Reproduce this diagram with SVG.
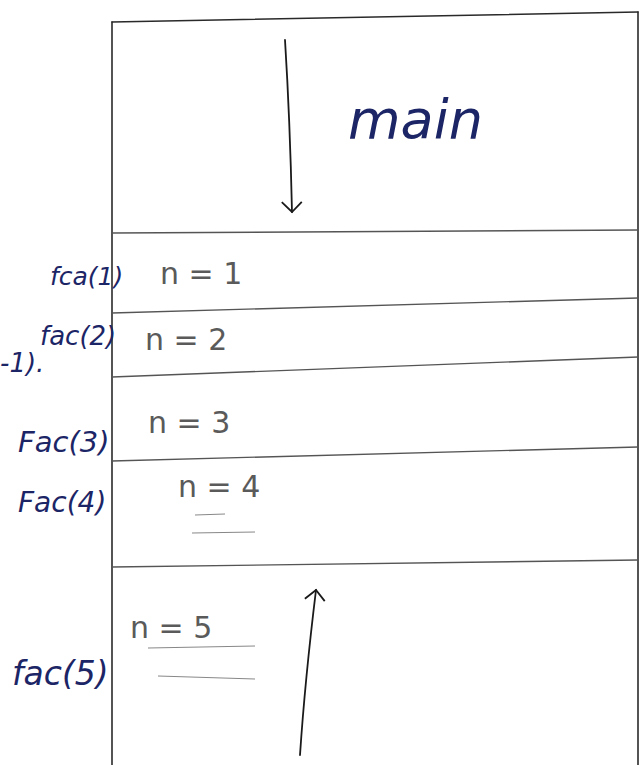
<svg xmlns="http://www.w3.org/2000/svg" width="644" height="765" viewBox="0 0 644 765">
<style>
.frame{fill:none;stroke:#2a2a2a;stroke-width:1.6;stroke-linecap:round}
.div{fill:none;stroke:#555;stroke-width:1.4}
.ink{font-family:"DejaVu Sans","Liberation Sans",sans-serif;fill:#1c2566;font-style:italic}
.pen{font-family:"DejaVu Sans","Liberation Sans",sans-serif;fill:#5a5a5a}
.ul{stroke:#888;stroke-width:1.2;fill:none}
.arr{fill:none;stroke:#1a1a1a;stroke-width:1.8;stroke-linecap:round}
</style>
<defs>
<marker id="head" viewBox="0 0 24 24" refX="12" refY="12" markerWidth="24" markerHeight="24" orient="auto-start-reverse" markerUnits="userSpaceOnUse">
<path d="M2,2 L12,12 L2,22" fill="none" stroke="#1a1a1a" stroke-width="1.8"/>
</marker>
</defs>
<rect width="644" height="765" fill="#ffffff"/>
<g id="stack-frame">
<path class="frame" d="M112,22 L638,12"/>
<path class="frame" d="M112,22 L112,765"/>
<path class="frame" d="M638,12 L638,765"/>
</g>
<g id="main">
<path class="div" d="M112,233 L638,230"/>
<text class="ink" x="348" y="138" font-size="54">main</text>
</g>
<g id="fac1">
<path class="div" d="M112,313 L638,298"/>
<text class="ink" x="50" y="285" font-size="25">fca(1)</text>
<text class="pen" x="160" y="284" font-size="30">n = 1</text>
</g>
<g id="fac2">
<path class="div" d="M112,377 L638,357"/>
<text class="ink" x="40" y="345" font-size="26">fac(2)</text>
<text class="ink" x="0" y="372" font-size="26">-1).</text>
<text class="pen" x="145" y="350" font-size="30">n = 2</text>
</g>
<g id="fac3">
<path class="div" d="M112,461 L638,447"/>
<text class="ink" x="18" y="452" font-size="29">Fac(3)</text>
<text class="pen" x="148" y="433" font-size="30">n = 3</text>
</g>
<g id="fac4">
<path class="div" d="M112,567 L638,560"/>
<text class="ink" x="18" y="512" font-size="28">Fac(4)</text>
<text class="pen" x="178" y="497" font-size="30">n = 4</text>
<path class="ul" d="M195,515 L225,514 M192,533 L255,532"/>
</g>
<g id="fac5">
<text class="ink" x="12" y="685" font-size="33">fac(5)</text>
<text class="pen" x="130" y="638" font-size="30">n = 5</text>
<path class="ul" d="M148,648 L255,646 M158,676 L255,679"/>
</g>
<g id="connectors">
<path class="arr" d="M285,40 Q290,120 292,212" marker-end="url(#head)"/>
<path class="arr" d="M300,755 Q305,680 316,590" marker-end="url(#head)"/>
</g>
</svg>
